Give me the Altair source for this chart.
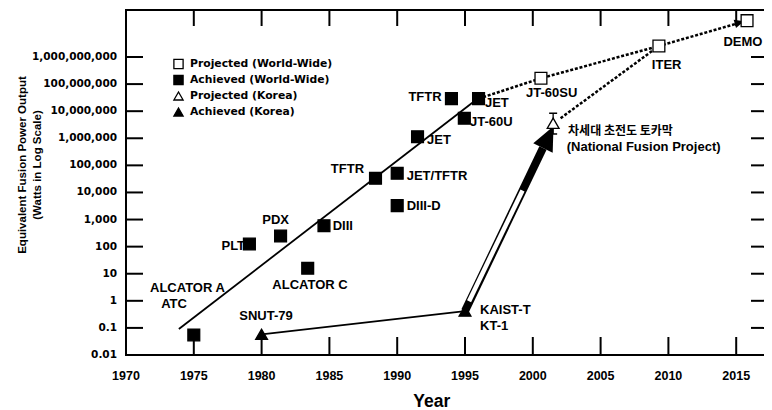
import math
import altair as alt
import pandas as pd

# ---------------- data ----------------
# Achieved (World-Wide)
ach_name = ["ALCATOR A", "PLT", "PDX", "ALCATOR C", "DIII", "TFTR", "JET/TFTR",
            "DIII-D", "JET", "TFTR", "JET", "JT-60U"]
ach_year = [1975.0, 1979.1, 1981.4, 1983.4, 1984.6, 1988.4, 1990.0, 1990.0,
            1991.5, 1994.0, 1996.0, 1994.95]
ach_watts = [0.055, 125, 247, 16, 593, 33300, 51000, 3250, 1.14e6, 2.9e7, 2.9e7, 5.5e6]

# Projected (World-Wide)
proj_name = ["JT-60SU", "ITER", "DEMO"]
proj_year = [2000.6, 2009.3, 2015.8]
proj_watts = [1.64e8, 2.55e9, 2.19e10]

# Achieved (Korea)
kor_name = ["SNUT-79", "KAIST-T KT-1"]
kor_year = [1980.0, 1995.0]
kor_watts = [0.058, 0.42]

# Projected (Korea)
korp_year = [2001.5]
korp_watts = [3.6e6]
korp_low = [1.44e6]
korp_high = [8.4e6]

# solid trend line (world-wide achieved)
trend_year = [1973.9, 1995.9]
trend_watts = [0.091, 2.8e7]

# dotted projection lines
dot_seg = ["ww", "ww", "ww", "ww", "kr", "kr"]
dot_year = [1996.0, 2000.6, 2009.3, 2015.8, 2002.05, 2009.3]
dot_watts = [2.9e7, 1.64e8, 2.55e9, 2.19e10, 5.5e6, 2.55e9]

# big Korean arrow
arrow_year = [1995.0, 2000.75]
arrow_watts = [0.42, 4.4e5]
arrow_inner_year = [1995.30, 1999.24]
arrow_inner_watts = [0.97, 11900]
head_year = [2000.75]
head_watts = [4.4e5]
small_head_year = [2014.9]
small_head_watts = [1.66e10]

# point labels
lab_text = ["ALCATOR A", "ATC", "SNUT-79", "ALCATOR C", "KAIST-T", "KT-1", "PLT", "PDX",
            "DIII", "TFTR", "JET/TFTR", "DIII-D", "JET", "TFTR", "JET", "JT-60U",
            "JT-60SU", "ITER", "DEMO", "(National Fusion Project)"]
lab_year = [1974.53, 1973.54, 1980.32, 1983.57, 1996.11, 1996.11, 1978.78, 1981.03,
            1985.24, 1986.33, 1990.70, 1990.70, 1992.20, 1992.05, 1996.47, 1995.37,
            2001.39, 2009.87, 2015.50, 2002.50]
lab_watts = [2.97, 0.796, 0.275, 3.94, 0.44, 0.118, 110, 923,
             578, 73500, 40500, 3160, 8.28e5, 3.43e7, 2.0e7, 3.83e6,
             4.78e7, 4.94e8, 3.67e9, 4.77e5]
lab_align = ["center", "center", "center", "center", "left", "left", "right", "center",
             "left", "center", "left", "left", "left", "center", "left", "left",
             "center", "center", "center", "left"]
kr_text = ["차세대 초전도 토카막"]
kr_year = [2002.60]
kr_watts = [1.86e6]

series_names = ["Projected (World-Wide)", "Achieved (World-Wide)",
                "Projected (Korea)", "Achieved (Korea)"]
series_shapes = ["square", "square", "triangle-up", "triangle-up"]
series_fills = ["white", "black", "white", "black"]

# axis ticks and their labels
year_ticks = [1970, 1975, 1980, 1985, 1990, 1995, 2000, 2005, 2010, 2015]
year_tick_labels = ["1970", "1975", "1980", "1985", "1990", "1995", "2000", "2005",
                    "2010", "2015"]
power_ticks = [0.01, 0.1, 1, 10, 100, 1000, 10000, 100000, 1000000,
               10000000, 100000000, 1000000000]
power_tick_labels = ["0.01", "0.1", "1", "10", "100", "1,000", "10,000", "100,000",
                     "1,000,000", "10,000,000", "100,000,000", "1,000,000,000"]
x_title = "Year"
y_title = ["Equivalent Fusion Power Output", "(Watts in Log Scale)"]

X_DOMAIN = [1970, 2017.05]
Y_DOMAIN = [0.01, 5.43e10]
W, H = 638, 345
PX_YR = W / (X_DOMAIN[1] - X_DOMAIN[0])
PX_DEC = H / math.log10(Y_DOMAIN[1] / Y_DOMAIN[0])

# ---------------- tables ----------------
pts = pd.DataFrame({
    "year": ach_year + proj_year + kor_year + korp_year,
    "watts": ach_watts + proj_watts + kor_watts + korp_watts,
    "series": [series_names[1]] * len(ach_year) + [series_names[0]] * len(proj_year)
              + [series_names[3]] * len(kor_year) + [series_names[2]] * len(korp_year),
})
trend = pd.DataFrame({"year": trend_year, "watts": trend_watts})
dots = pd.DataFrame({"seg": dot_seg, "year": dot_year, "watts": dot_watts,
                     "ord": list(range(len(dot_year)))})
kline = pd.DataFrame({"year": kor_year, "watts": kor_watts})
arrow = pd.DataFrame({"year": arrow_year, "watts": arrow_watts})
arrow_in = pd.DataFrame({"year": arrow_inner_year, "watts": arrow_inner_watts})
head = pd.DataFrame({"year": head_year, "watts": head_watts})
small_head = pd.DataFrame({"year": small_head_year, "watts": small_head_watts})
err = pd.DataFrame({"year": korp_year, "watts": korp_low, "high": korp_high})
labels = pd.DataFrame({"text": lab_text, "year": lab_year, "watts": lab_watts, "align": lab_align})
krlab = pd.DataFrame({"text": kr_text, "year": kr_year, "watts": kr_watts})
xlab_df = pd.DataFrame({"year": year_ticks, "watts": [Y_DOMAIN[0]] * len(year_ticks),
                        "text": year_tick_labels})
ylab_df = pd.DataFrame({"year": [X_DOMAIN[0]] * len(power_ticks), "watts": power_ticks,
                        "text": power_tick_labels})
xtitle_df = pd.DataFrame({"text": [x_title]})
ytitle_df = pd.DataFrame({"text": y_title, "line": [0, 1]})

# frame and inward ticks as short line segments along the plot edges
g_seg, g_year, g_watts, g_ord = [], [], [], []


def add_seg(name, p0, p1):
    for i, (yr, w) in enumerate([p0, p1]):
        g_seg.append(name)
        g_year.append(yr)
        g_watts.append(w)
        g_ord.append(i)


add_seg("frame-left", (X_DOMAIN[0], Y_DOMAIN[0]), (X_DOMAIN[0], Y_DOMAIN[1]))
add_seg("frame-top", (X_DOMAIN[0], Y_DOMAIN[1]), (X_DOMAIN[1], Y_DOMAIN[1]))
add_seg("frame-bottom", (X_DOMAIN[0], Y_DOMAIN[0]), (X_DOMAIN[1], Y_DOMAIN[0]))
for t in year_ticks[1:]:
    add_seg(f"b{t}", (t, Y_DOMAIN[0]), (t, Y_DOMAIN[0] * 10 ** (17 / PX_DEC)))
    add_seg(f"t{t}", (t, Y_DOMAIN[1]), (t, Y_DOMAIN[1] / 10 ** (15 / PX_DEC)))
for v in power_ticks[1:]:
    add_seg(f"l{v}", (X_DOMAIN[0], v), (X_DOMAIN[0] + 16 / PX_YR, v))
    add_seg(f"r{v}", (X_DOMAIN[1], v), (X_DOMAIN[1] - 12 / PX_YR, v))
guides = pd.DataFrame({"seg": g_seg, "year": g_year, "watts": g_watts, "ord": g_ord})

X_SCALE = alt.Scale(domain=X_DOMAIN, nice=False, zero=False)
Y_SCALE = alt.Scale(type="log", domain=Y_DOMAIN, nice=False)


def xe(field="year"):
    return alt.X(f"{field}:Q", scale=X_SCALE, axis=None)


def ye(field="watts"):
    return alt.Y(f"{field}:Q", scale=Y_SCALE, axis=None)


l_guides = alt.Chart(guides).mark_line(color="black", strokeWidth=2, strokeCap="square").encode(
    x=xe(), y=ye(), detail="seg:N", order="ord:Q")

# tick labels and axis titles
xlabels = alt.Chart(xlab_df).mark_text(font="Liberation Sans", fontWeight="bold",
                                       fontSize=12.5, align="center", baseline="middle",
                                       dy=21, color="black").encode(
    x=xe(), y=ye(), text="text:N")
ylabels = alt.Chart(ylab_df).mark_text(font="DejaVu Sans", fontWeight="bold",
                                       fontSize=10.5, align="right", baseline="middle",
                                       dx=-9, color="black").encode(
    x=xe(), y=ye(), text="text:N")
xtitle = alt.Chart(xtitle_df).mark_text(font="Liberation Sans", fontWeight="bold",
                                        fontSize=17.5, align="center",
                                        baseline="alphabetic", color="black").encode(
    x=alt.value(305.7), y=alt.value(397.3), text="text:N")
ytitle1 = alt.Chart(ytitle_df).transform_filter(alt.datum.line == 0).mark_text(
    font="Liberation Sans", fontWeight="bold", fontSize=11.5, align="center",
    baseline="middle", angle=270, color="black").encode(
    x=alt.value(-103), y=alt.value(155), text="text:N")
ytitle2 = alt.Chart(ytitle_df).transform_filter(alt.datum.line == 1).mark_text(
    font="Liberation Sans", fontWeight="bold", fontSize=11.5, align="center",
    baseline="middle", angle=270, color="black").encode(
    x=alt.value(-88), y=alt.value(155), text="text:N")

l_trend = alt.Chart(trend).mark_line(color="black", strokeWidth=1.8).encode(x=xe(), y=ye())
l_dots = alt.Chart(dots).mark_line(color="black", strokeWidth=2.5, strokeDash=[3, 1.8]).encode(
    x=xe(), y=ye(), detail="seg:N", order="ord:Q")
l_kline = alt.Chart(kline).mark_line(color="black", strokeWidth=1.8).encode(x=xe(), y=ye())

l_arrow = alt.Chart(arrow).mark_line(color="black", strokeWidth=8).encode(x=xe(), y=ye())
l_arrow_in = alt.Chart(arrow_in).mark_line(color="white", strokeWidth=4.5).encode(x=xe(), y=ye())
l_head = alt.Chart(head).mark_point(shape="M0,-2L0.9,0L-0.9,0Z", filled=True, color="black",
                                     opacity=1, size=576, angle=26).encode(x=xe(), y=ye())
l_small_head = alt.Chart(small_head).mark_point(shape="M0,-2L0.9,0L-0.9,0Z", filled=True,
                                                 color="black", opacity=1, size=90,
                                                 angle=74).encode(x=xe(), y=ye())

l_err = alt.Chart(err).mark_rule(color="black", strokeWidth=1.3).encode(
    x=xe(), y=ye(), y2="high:Q")
l_cap_lo = alt.Chart(err).mark_tick(color="black", orient="horizontal", size=8,
                                    thickness=1.5, opacity=1).encode(x=xe(), y=ye())
l_cap_hi = alt.Chart(err).mark_tick(color="black", orient="horizontal", size=8,
                                    thickness=1.5, opacity=1).encode(x=xe(), y=ye("high"))

leg = alt.Legend(orient="none", legendX=47, legendY=48.5, title=None, padding=0,
                 labelFont="DejaVu Sans", labelFontWeight="bold", labelFontSize=10.8,
                 labelColor="black", symbolSize=85, symbolStrokeWidth=1.3,
                 rowPadding=1, labelOffset=6)
l_pts = alt.Chart(pts).mark_point(filled=True, strokeWidth=1.3, opacity=1, size=140).encode(
    x=xe(), y=ye(),
    shape=alt.Shape("series:N", scale=alt.Scale(domain=series_names, range=series_shapes),
                    legend=leg),
    fill=alt.Fill("series:N", scale=alt.Scale(domain=series_names, range=series_fills),
                  legend=leg),
    stroke=alt.Stroke("series:N", scale=alt.Scale(domain=series_names,
                                                  range=["black"] * 4), legend=leg),
)

text_layers = []
for a in ["left", "center", "right"]:
    text_layers.append(
        alt.Chart(labels).transform_filter(alt.datum.align == a).mark_text(
            font="Liberation Sans", fontWeight="bold", fontSize=13, align=a,
            baseline="middle", color="black").encode(x=xe(), y=ye(), text="text:N"))
l_kr = alt.Chart(krlab).mark_text(font="Noto Sans CJK KR", fontWeight="bold", fontSize=12,
                                  align="left", baseline="middle", color="black").encode(
    x=xe(), y=ye(), text="text:N")

chart = alt.layer(
    l_guides, xlabels, ylabels, xtitle, ytitle1, ytitle2,
    l_trend, l_dots, l_kline, l_arrow, l_arrow_in, l_head, l_small_head,
    l_err, l_cap_lo, l_cap_hi, l_pts, *text_layers, l_kr
).properties(
    width=W, height=H,
    autosize=alt.AutoSizeParams(type="none"),
    padding={"left": 118, "top": 2, "right": 0, "bottom": 55},
    background="white",
).configure_view(stroke=None)

chart.save("out.html", embed_options={"renderer": "svg", "actions": False})
